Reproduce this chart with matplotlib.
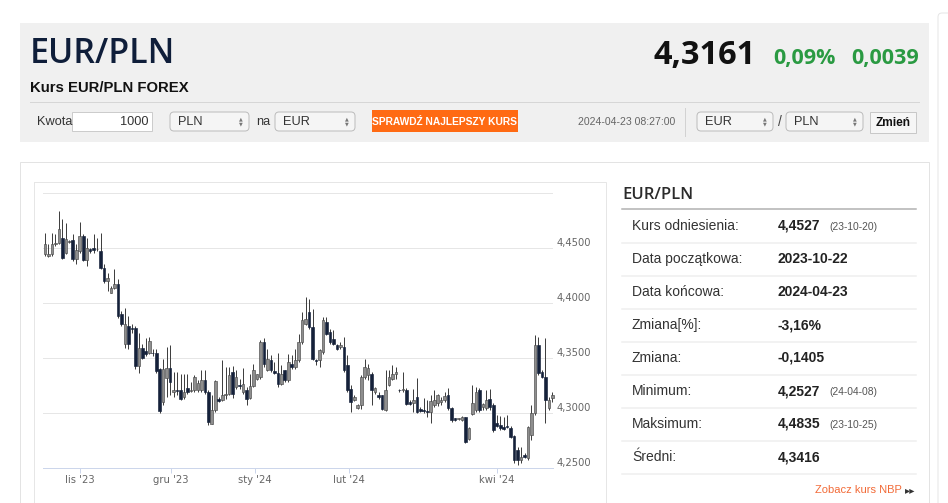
import matplotlib
matplotlib.use('Agg')
import matplotlib.pyplot as plt
from matplotlib.patches import Rectangle, FancyBboxPatch
import numpy as np

# ---------------- data ----------------
opens = [4.4440, 4.4424, 4.4439, 4.4530, 4.4545, 4.4591, 4.4455, 4.4552, 4.4567, 4.4394,
         4.4470, 4.4606, 4.4385, 4.4485, 4.4500, 4.4485, 4.4470, 4.4318, 4.4197, 4.4091,
         4.4130, 4.4167, 4.3894, 4.3621, 4.3788, 4.3773, 4.3773, 4.3424, 4.3591, 4.3561,
         4.3545, 4.3545, 4.3545, 4.3394, 4.3097, 4.3318, 4.3409, 4.3188, 4.3209, 4.3209,
         4.3142, 4.3227, 4.3200, 4.3203, 4.3203, 4.3203, 4.3294, 4.3188, 4.2900, 4.3021,
         4.3127, 4.3112, 4.3158, 4.3173, 4.3370, 4.3233, 4.3255, 4.3188, 4.3203, 4.3136,
         4.3239, 4.3309, 4.3324, 4.3642, 4.3385, 4.3476, 4.3379, 4.3361, 4.3264, 4.3385,
         4.3294, 4.3445, 4.3415, 4.3476, 4.3642, 4.3809, 4.3915, 4.3779, 4.3480, 4.3476,
         4.3552, 4.3824, 4.3733, 4.3673, 4.3612, 4.3597, 4.3597, 4.3430, 4.3218, 4.3112,
         4.3045, 4.3067, 4.3324, 4.3339, 4.3355, 4.3188, 4.3158, 4.3158, 4.3021, 4.3248,
         4.3309, 4.3355, 4.3209, 4.3203, 4.3203, 4.3097, 4.3091, 4.3139, 4.3030, 4.3024,
         4.3018, 4.3009, 4.3070, 4.3085, 4.3100, 4.3115, 4.3161, 4.3039, 4.2948, 4.2942,
         4.2933, 4.2958, 4.2758, 4.2988, 4.3024, 4.3206, 4.3048, 4.3039, 4.3121, 4.3070,
         4.2903, 4.2888, 4.2873, 4.2879, 4.2858, 4.2788, 4.2661, 4.2570, 4.2615, 4.2585,
         4.2797, 4.2994, 4.3615, 4.3373, 4.3327, 4.3039, 4.3130]
highs = [4.4636, 4.4530, 4.4636, 4.4621, 4.4835, 4.4758, 4.4727, 4.4570, 4.4621, 4.4530,
         4.4736, 4.4621, 4.4585, 4.4500, 4.4621, 4.4591, 4.4630, 4.4348, 4.4273, 4.4152,
         4.4303, 4.4212, 4.3924, 4.3955, 4.3879, 4.3803, 4.3788, 4.3727, 4.3621, 4.3682,
         4.3688, 4.3576, 4.3576, 4.3409, 4.3485, 4.3597, 4.3612, 4.3370, 4.3370, 4.3355,
         4.3355, 4.3355, 4.3279, 4.3339, 4.3294, 4.3385, 4.3385, 4.3203, 4.3158, 4.3300,
         4.3142, 4.3476, 4.3415, 4.3415, 4.3421, 4.3385, 4.3309, 4.3409, 4.3233, 4.3355,
         4.3445, 4.3355, 4.3658, 4.3682, 4.3582, 4.3521, 4.3461, 4.3542, 4.3430, 4.3391,
         4.3530, 4.3521, 4.3582, 4.3718, 4.3915, 4.4052, 4.4036, 4.3945, 4.3485, 4.3582,
         4.3870, 4.3870, 4.3764, 4.3755, 4.3627, 4.3642, 4.3688, 4.3521, 4.3248, 4.3158,
         4.3076, 4.3339, 4.3485, 4.3445, 4.3370, 4.3233, 4.3188, 4.3158, 4.3385, 4.3385,
         4.3430, 4.3415, 4.3218, 4.3370, 4.3227, 4.3112, 4.3220, 4.3312, 4.3048, 4.3130,
         4.3115, 4.3161, 4.3206, 4.3170, 4.3145, 4.3191, 4.3221, 4.3048, 4.2948, 4.2955,
         4.2970, 4.2964, 4.2873, 4.3252, 4.3236, 4.3221, 4.3085, 4.3206, 4.3212, 4.3085,
         4.2979, 4.2970, 4.2964, 4.2979, 4.2879, 4.2797, 4.2691, 4.2691, 4.2630, 4.2879,
         4.3070, 4.3706, 4.3691, 4.3388, 4.3676, 4.3145, 4.3191]
lows = [4.4424, 4.4415, 4.4424, 4.4515, 4.4530, 4.4394, 4.4439, 4.4540, 4.4379, 4.4348,
        4.4455, 4.4379, 4.4333, 4.4455, 4.4455, 4.4470, 4.4303, 4.4182, 4.4106, 4.4091,
        4.4121, 4.3864, 4.3788, 4.3591, 4.3576, 4.3727, 4.3394, 4.3364, 4.3485, 4.3515,
        4.3530, 4.3515, 4.3364, 4.3000, 4.3067, 4.3142, 4.3158, 4.3142, 4.3158, 4.3112,
        4.3127, 4.3173, 4.3188, 4.3188, 4.3188, 4.3188, 4.3173, 4.2885, 4.2894, 4.3006,
        4.3097, 4.3106, 4.3127, 4.3158, 4.3136, 4.3218, 4.3218, 4.3173, 4.3067, 4.3127,
        4.3233, 4.3300, 4.3309, 4.3415, 4.3379, 4.3370, 4.3355, 4.3233, 4.3248, 4.3279,
        4.3279, 4.3400, 4.3400, 4.3461, 4.3627, 4.3794, 4.3764, 4.3476, 4.3430, 4.3415,
        4.3536, 4.3703, 4.3627, 4.3612, 4.3567, 4.3582, 4.3370, 4.3188, 4.3006, 4.3106,
        4.3036, 4.3036, 4.3309, 4.3294, 4.3067, 4.3173, 4.3127, 4.3021, 4.3015, 4.3239,
        4.3294, 4.3309, 4.3188, 4.3188, 4.3067, 4.3067, 4.3010, 4.2994, 4.3009, 4.2994,
        4.2964, 4.2903, 4.3048, 4.3061, 4.3070, 4.3100, 4.3024, 4.2918, 4.2927, 4.2936,
        4.2924, 4.2727, 4.2752, 4.2979, 4.3009, 4.3009, 4.3024, 4.3024, 4.3024, 4.2827,
        4.2873, 4.2842, 4.2842, 4.2858, 4.2767, 4.2539, 4.2527, 4.2539, 4.2585, 4.2570,
        4.2752, 4.2979, 4.3342, 4.3312, 4.2903, 4.3024, 4.3100]
closes = [4.4530, 4.4439, 4.4530, 4.4545, 4.4667, 4.4409, 4.4576, 4.4558, 4.4394, 4.4476,
          4.4606, 4.4385, 4.4500, 4.4470, 4.4476, 4.4490, 4.4318, 4.4197, 4.4227, 4.4136,
          4.4167, 4.3879, 4.3803, 4.3803, 4.3621, 4.3758, 4.3424, 4.3591, 4.3500, 4.3530,
          4.3652, 4.3539, 4.3379, 4.3015, 4.3400, 4.3409, 4.3279, 4.3203, 4.3200, 4.3127,
          4.3188, 4.3188, 4.3209, 4.3324, 4.3270, 4.3294, 4.3188, 4.2915, 4.3021, 4.3288,
          4.3106, 4.3158, 4.3173, 4.3339, 4.3173, 4.3324, 4.3239, 4.3258, 4.3127, 4.3239,
          4.3391, 4.3348, 4.3642, 4.3445, 4.3491, 4.3385, 4.3361, 4.3264, 4.3355, 4.3294,
          4.3461, 4.3415, 4.3476, 4.3642, 4.3839, 4.3855, 4.3779, 4.3491, 4.3470, 4.3567,
          4.3839, 4.3718, 4.3642, 4.3627, 4.3582, 4.3612, 4.3385, 4.3203, 4.3097, 4.3142,
          4.3067, 4.3324, 4.3415, 4.3409, 4.3203, 4.3227, 4.3142, 4.3036, 4.3203, 4.3324,
          4.3355, 4.3370, 4.3203, 4.3218, 4.3082, 4.3082, 4.3115, 4.3009, 4.3018, 4.3015,
          4.3009, 4.3109, 4.3115, 4.3161, 4.3115, 4.3152, 4.3039, 4.2933, 4.2933, 4.2948,
          4.2964, 4.2736, 4.2858, 4.3085, 4.3191, 4.3024, 4.3079, 4.3115, 4.3048, 4.2842,
          4.2879, 4.2858, 4.2852, 4.2867, 4.2776, 4.2570, 4.2570, 4.2600, 4.2600, 4.2873,
          4.2994, 4.3615, 4.3358, 4.3327, 4.3115, 4.3115, 4.3161]

month_labels = ["lis '23", "gru '23", "sty '24", "lut '24", "kwi '24"]
month_pos = [10.0, 36.3, 60.4, 87.5, 130.1]   # candle index where each label sits
y_ticks = [4.25, 4.30, 4.35, 4.40, 4.45, 4.50]

pair = "EUR/PLN"
subtitle = "Kurs EUR/PLN FOREX"
last_rate = "4,3161"
change_pct = "0,09%"
change_abs = "0,0039"
timestamp = "2024-04-23 08:27:00"
amount = "1000"

stat_labels = ["Kurs odniesienia:", "Data początkowa:", "Data końcowa:", "Zmiana[%]:",
               "Zmiana:", "Minimum:", "Maksimum:", "Średni:"]
stat_values = ["4,4527", "2023-10-22", "2024-04-23", "-3,16%", "-0,1405", "4,2527",
               "4,4835", "4,3416"]
stat_dates = ["(23-10-20)", "", "", "", "", "(24-04-08)", "(23-10-25)", ""]

# ---------------- figure ----------------
W, H = 948, 503
PT = 72 / 100.0
SANS = ['Liberation Sans', 'DejaVu Sans']
OPEN = ['Open Sans', 'DejaVu Sans']

fig = plt.figure(figsize=(W / 100, H / 100), dpi=100)
fig.patch.set_facecolor('white')
bg = fig.add_axes([0, 0, 1, 1])
bg.set_xlim(0, W)
bg.set_ylim(H, 0)
bg.axis('off')

# header box
bg.add_patch(Rectangle((20, 23), 909, 119, fc='#f0f0f0', ec='none'))
bg.plot([30, 919], [102, 102], color='#d6d6d6', lw=1 * PT)
bg.text(30, 63, pair, fontsize=24.5, family=OPEN, weight='semibold', color='#0f1e3a', va='baseline')
bg.text(30, 92, subtitle, fontsize=10.7, weight='bold', family=SANS, color='#111111', va='baseline')
bg.text(919, 64, change_abs, ha='right', va='baseline', fontsize=15.5, weight='bold',
        color='#2a9a42', family=OPEN)
bg.text(836, 64, change_pct, ha='right', va='baseline', fontsize=15.5, weight='bold',
        color='#2a9a42', family=OPEN)
bg.text(756, 64, last_rate, ha='right', va='baseline', fontsize=23.5, weight='bold',
        color='#111111', family=OPEN)

# form row
cy = 121.5


def select_box(x0, x1, label):
    bg.add_patch(FancyBboxPatch((x0, 112), x1 - x0, 19,
                                boxstyle='round,pad=0,rounding_size=4',
                                fc='#f5f5f5', ec='#bdbdbd', lw=1 * PT))
    bg.text(x0 + 8, cy, label, fontsize=9.2, family=SANS, color='#333333', va='center')
    bg.text(x1 - 8, cy - 2.5, '▲', fontsize=3.5, color='#777777', ha='center', va='center')
    bg.text(x1 - 8, cy + 2.5, '▼', fontsize=3.5, color='#777777', ha='center', va='center')


bg.text(37, cy, 'Kwota', fontsize=9.2, family=SANS, color='#333333', va='center')
bg.add_patch(Rectangle((72, 112), 80, 19, fc='white', ec='#cccccc', lw=1 * PT))
bg.text(149, cy, amount, fontsize=9.2, family=SANS, color='#333333', va='center', ha='right')
select_box(170, 249, 'PLN')
bg.text(256, cy, 'na', fontsize=9.2, family=SANS, color='#333333', va='center')
select_box(275, 355, 'EUR')
bg.add_patch(Rectangle((372, 110), 146, 22, fc='#ff6a13', ec='none'))
bg.text(445, cy, 'SPRAWDŹ NAJLEPSZY KURS', fontsize=7.4, weight='bold',
        family=['Liberation Sans Narrow', 'Liberation Sans'], color='white', ha='center', va='center')
bg.text(675, cy, timestamp, fontsize=7.6, family=SANS, color='#666666', ha='right', va='center')
bg.plot([685, 685], [108, 136], color='#d2d2d2', lw=1 * PT)
select_box(697, 773, 'EUR')
bg.text(780, cy, '/', fontsize=10, family=SANS, color='#444444', ha='center', va='center')
select_box(786, 863, 'PLN')
bg.add_patch(Rectangle((870, 112), 46, 21, fc='#f6f6f6', ec='#c8c8c8', lw=1 * PT))
bg.text(893, cy + 1, 'Zmień', fontsize=8.6, weight='bold', family=SANS, color='#111111',
        ha='center', va='center')

# lower panels
bg.add_patch(Rectangle((20, 162), 909, 400, fc='white', ec='#e3e3e3', lw=1 * PT))
bg.add_patch(Rectangle((34, 182), 572, 400, fc='none', ec='#e6e6e6', lw=1 * PT))
bg.add_patch(FancyBboxPatch((938, 13), 60, 600, boxstyle='round,pad=0,rounding_size=4',
                            fc='white', ec='#e6e6e6', lw=1 * PT))

# right table
bg.text(622, 199, pair, fontsize=12, family=OPEN, weight='semibold', color='#2b2b2b', va='baseline')
bg.plot([622, 916], [209, 209], color='#b0b0b0', lw=1.5 * PT)
for i, (lab, val, dt) in enumerate(zip(stat_labels, stat_values, stat_dates)):
    yc = 226 + i * 33
    bg.text(632, yc, lab, fontsize=10, family=SANS, color='#333333', va='center')
    bg.text(778, yc, val, fontsize=10, weight='bold', family=SANS, color='#222222', va='center')
    if dt:
        bg.text(829, yc + 1, dt, fontsize=7.4, family=SANS, color='#555555', va='center')
    bg.plot([622, 916], [yc + 17, yc + 17], color='#efefef', lw=1.5 * PT)
bg.text(902, 490, 'Zobacz kurs NBP', fontsize=8, family=SANS, color='#f26b38',
        ha='right', va='center')
bg.text(905, 490, '▸▸', fontsize=7.5, family='DejaVu Sans', color='#333333', ha='left', va='center')

# ---------------- candlestick chart ----------------
left_px, right_px, top_px, bot_px = 43, 553, 192.7, 467.7
ax = fig.add_axes([left_px / W, 1 - bot_px / H, (right_px - left_px) / W, (bot_px - top_px) / H])
ax.set_facecolor('none')

o = np.array(opens)
hi = np.array(highs)
lo = np.array(lows)
c = np.array(closes)
x = np.arange(len(c))
step = 3.475
ax.set_xlim(-2 / step, (right_px - left_px - 2) / step)
ax.set_ylim(4.25, 4.50)

up = c >= o
ax.vlines(x, lo, hi, color='#404040', lw=1 * PT, zorder=3, clip_on=False)
body_h = np.maximum(np.abs(c - o), 0.0004)
ax.bar(x, body_h, bottom=np.minimum(o, c), width=0.76,
       color=np.where(up, '#8e8e8e', '#15213a'),
       edgecolor=np.where(up, '#4a4a4a', '#15213a'), linewidth=0.45,
       zorder=4, clip_on=False)

ax.set_yticks(y_ticks)
ax.set_yticklabels([f"{v:.4f}".replace('.', ',') if v < 4.5 else '' for v in y_ticks])
ax.yaxis.tick_right()
ax.tick_params(axis='y', length=0, pad=4 * PT, labelsize=7.2, labelcolor='#666666')
for lbl in ax.get_yticklabels():
    lbl.set_va('bottom')
    lbl.set_family('DejaVu Sans')
ax.grid(axis='y', color='#e6e6e6', lw=1 * PT, zorder=0)
ax.set_axisbelow(True)

ax.set_xticks(month_pos)
ax.set_xticklabels(month_labels)
ax.tick_params(axis='x', length=5 * PT, width=1 * PT, color='#ccd6eb', pad=2,
               labelsize=7.2, labelcolor='#666666')
for lbl in ax.get_xticklabels():
    lbl.set_family('DejaVu Sans')
for s in ['top', 'left', 'right']:
    ax.spines[s].set_visible(False)
ax.spines['bottom'].set_color('#ccd6eb')
ax.spines['bottom'].set_linewidth(1 * PT)

fig.savefig('out.png', dpi=100, facecolor='white')
